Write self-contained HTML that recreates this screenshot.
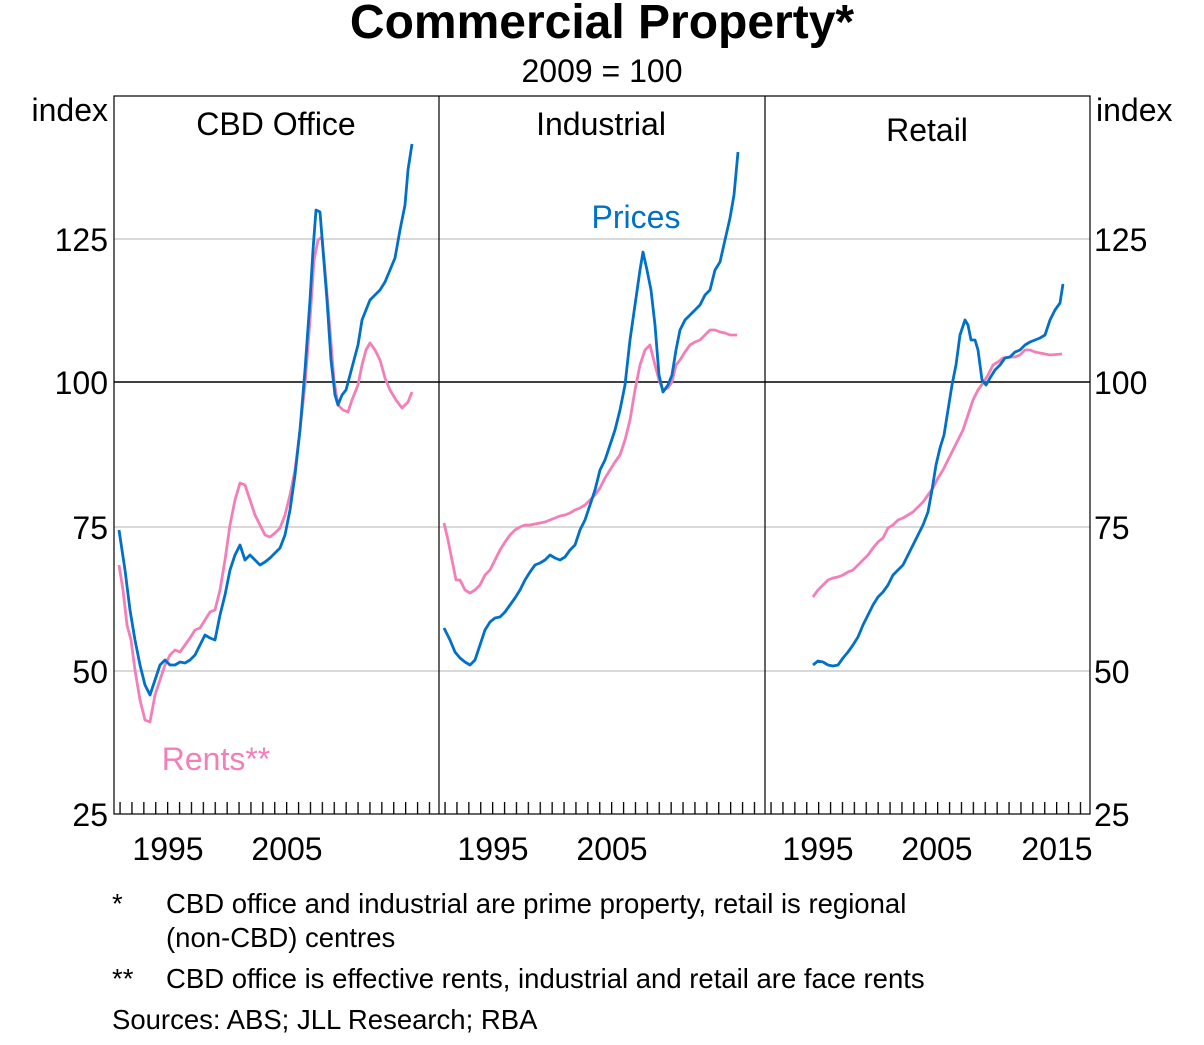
<!DOCTYPE html>
<html><head><meta charset="utf-8"><style>
body{margin:0;background:#fff;}
svg text{font-family:"Liberation Sans",Arial,sans-serif;}
</style></head><body>
<svg width="1204" height="1040" viewBox="0 0 1204 1040" xmlns="http://www.w3.org/2000/svg">
<defs>
<pattern id="p1" patternUnits="userSpaceOnUse" x="119.4" y="0" width="11.9" height="20"><rect x="0" y="0" width="1.3" height="20" fill="#000"/></pattern>
<pattern id="p2" patternUnits="userSpaceOnUse" x="444.4" y="0" width="11.9" height="20"><rect x="0" y="0" width="1.3" height="20" fill="#000"/></pattern>
<pattern id="p3" patternUnits="userSpaceOnUse" x="770.4" y="0" width="11.9" height="20"><rect x="0" y="0" width="1.3" height="20" fill="#000"/></pattern>
</defs>
<rect width="1204" height="1040" fill="#fff"/>
<text x="602" y="38" font-size="48" font-weight="bold" text-anchor="middle">Commercial Property*</text>
<text x="602" y="82" font-size="32" text-anchor="middle">2009 = 100</text>
<g stroke="#b3b3b3" stroke-width="1">
<line x1="114" y1="239" x2="1090" y2="239"/>
<line x1="114" y1="527" x2="1090" y2="527"/>
<line x1="114" y1="671" x2="1090" y2="671"/>
</g>
<line x1="114" y1="382" x2="1090" y2="382" stroke="#000" stroke-width="1.5"/>
<rect x="119" y="802" width="318" height="12" fill="url(#p1)"/>
<rect x="444" y="802" width="318" height="12" fill="url(#p2)"/>
<rect x="770" y="802" width="318" height="12" fill="url(#p3)"/>
<rect x="114" y="96" width="976" height="718" fill="none" stroke="#000" stroke-width="1.2"/>
<line x1="439" y1="96" x2="439" y2="814" stroke="#000" stroke-width="1.2"/>
<line x1="765" y1="96" x2="765" y2="814" stroke="#000" stroke-width="1.2"/>
<g font-size="32">
<text x="108" y="121" text-anchor="end">index</text>
<text x="1096" y="121">index</text>
<text x="108" y="251" text-anchor="end">125</text>
<text x="108" y="394" text-anchor="end">100</text>
<text x="108" y="539" text-anchor="end">75</text>
<text x="108" y="683" text-anchor="end">50</text>
<text x="108" y="826" text-anchor="end">25</text>
<text x="1094" y="251">125</text>
<text x="1094" y="394">100</text>
<text x="1094" y="539">75</text>
<text x="1094" y="683">50</text>
<text x="1094" y="826">25</text>
<text x="168" y="860" text-anchor="middle">1995</text>
<text x="287" y="860" text-anchor="middle">2005</text>
<text x="493" y="860" text-anchor="middle">1995</text>
<text x="612" y="860" text-anchor="middle">2005</text>
<text x="818" y="860" text-anchor="middle">1995</text>
<text x="937" y="860" text-anchor="middle">2005</text>
<text x="1057" y="860" text-anchor="middle">2015</text>
<text x="276" y="135" text-anchor="middle">CBD Office</text>
<text x="601" y="135" text-anchor="middle">Industrial</text>
<text x="927" y="141" text-anchor="middle">Retail</text>
<text x="636" y="228" text-anchor="middle" fill="#0070c8">Prices</text>
<text x="216" y="770" text-anchor="middle" fill="#f47fb8">Rents**</text>
</g>
<g fill="none" stroke-width="2.8" stroke-linejoin="round">
<polyline stroke="#f47fb8" points="119,565 123,590 127,625 131,640 135,670 140,700 145,720 150,722 155,695 160,680 165,665 170,655 175,650 180,652 185,645 190,638 195,630 200,628 205,620 210,612 215,610 220,590 225,560 230,525 235,500 240,483 245,485 250,500 255,515 260,525 265,535 270,537 275,533 280,528 285,515 290,495 295,470 300,430 305,385 310,320 314,260 318,240 322,237 325,270 330,330 334,380 338,405 343,410 348,412 352,400 358,385 362,365 366,350 370,343 375,350 380,360 385,378 390,390 396,400 402,408 408,402 412,392"/>
<polyline stroke="#0070c8" points="119,530 125,570 130,610 135,640 140,665 145,685 150,695 155,680 160,665 165,660 170,665 175,665 180,662 185,663 190,660 195,655 200,645 205,635 210,638 215,640 220,615 225,595 230,570 235,555 240,545 245,560 250,555 255,560 260,565 265,562 270,558 275,553 280,548 285,535 290,510 295,475 300,430 305,370 310,300 313,250 316,210 320,212 323,250 327,300 331,360 335,395 338,405 342,395 346,390 350,375 354,360 358,345 362,320 366,310 370,300 375,295 380,290 385,282 390,270 395,258 400,230 405,205 408,170 412,144"/>
<polyline stroke="#f47fb8" points="444,523 448,540 452,560 456,580 460,580 465,590 470,593 475,590 480,585 485,575 490,570 495,560 500,550 505,542 510,535 515,530 520,527 525,525 530,525 535,524 540,523 545,522 550,520 555,518 560,516 565,515 570,513 575,510 580,508 585,505 590,500 595,495 600,488 605,478 610,470 615,462 620,455 625,440 630,420 635,390 640,365 645,350 650,345 655,365 659,380 663,390 668,388 672,382 676,365 680,360 685,352 690,345 695,342 700,340 705,335 710,330 715,330 720,332 725,333 730,335 737,335"/>
<polyline stroke="#0070c8" points="444,628 450,640 455,652 460,658 465,662 470,665 475,660 480,645 485,630 490,622 495,618 500,617 505,612 510,605 515,598 520,590 525,580 530,572 535,565 540,563 545,560 550,555 555,558 560,560 565,557 570,550 575,545 580,530 585,520 590,505 595,490 600,470 605,460 610,445 615,430 620,410 625,385 630,340 635,305 640,270 643,252 647,270 651,290 655,325 659,375 663,392 668,385 672,375 676,350 680,330 685,320 690,315 695,310 700,305 705,295 710,290 715,270 720,262 725,240 730,218 734,195 738,152"/>
<polyline stroke="#f47fb8" points="813,597 818,590 823,585 828,580 833,578 838,577 843,575 848,572 853,570 858,565 863,560 868,555 873,548 878,542 883,538 888,528 893,525 898,520 903,518 908,515 913,512 918,507 923,502 928,495 933,488 938,478 943,470 948,460 953,450 958,440 963,430 968,415 973,400 978,390 983,383 988,375 993,365 998,362 1003,358 1010,357 1015,357 1020,355 1025,350 1030,350 1035,352 1040,353 1045,354 1050,355 1062,354"/>
<polyline stroke="#0070c8" points="813,665 818,661 823,662 828,665 833,666 838,665 843,658 848,652 853,645 858,637 863,625 868,615 873,605 878,597 883,592 888,585 893,575 898,570 903,565 908,555 913,545 918,535 923,525 928,512 932,490 936,465 940,448 944,435 948,410 952,385 956,365 960,335 965,320 968,325 971,340 975,340 978,350 982,380 986,385 990,378 995,370 1000,365 1005,358 1010,357 1015,352 1020,350 1025,345 1030,342 1035,340 1040,338 1045,335 1050,320 1055,310 1060,303 1063,284"/>
</g>
<g font-size="27.5">
<text x="112" y="913">*</text>
<text x="166" y="913">CBD office and industrial are prime property, retail is regional</text>
<text x="166" y="947">(non-CBD) centres</text>
<text x="112" y="988">**</text>
<text x="166" y="988">CBD office is effective rents, industrial and retail are face rents</text>
<text x="112" y="1029">Sources:  ABS; JLL Research; RBA</text>
</g>
</svg>
</body></html>
